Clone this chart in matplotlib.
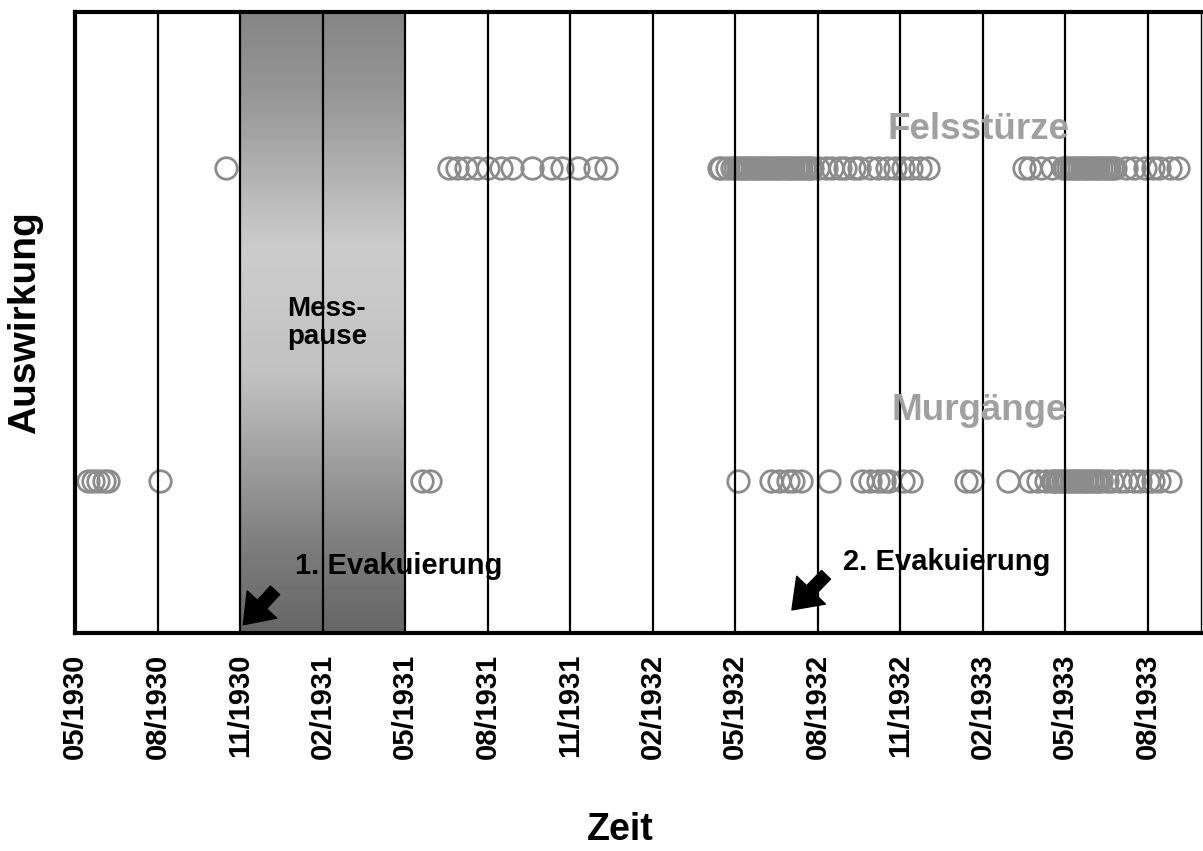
import numpy as np
import matplotlib
matplotlib.use("Agg")
import matplotlib.pyplot as plt
from matplotlib.patches import FancyArrowPatch

plt.rcParams['font.family'] = ['Liberation Sans', 'DejaVu Sans']
plt.rcParams['font.weight'] = 'bold'

# Zeit in Monaten ab 05/1930
ticks = [0, 3, 6, 9, 12, 15, 18, 21, 24, 27, 30, 33, 36, 39]
tick_labels = ['05/1930', '08/1930', '11/1930', '02/1931', '05/1931', '08/1931',
               '11/1931', '02/1932', '05/1932', '08/1932', '11/1932', '02/1933',
               '05/1933', '08/1933']

# Felsstürze
fels = [5.5,
        13.6, 13.9, 14.2, 14.6, 15.0, 15.5, 15.9, 16.6, 17.3, 17.7, 18.3, 18.9, 19.3,
        23.4, 23.5, 23.7, 23.9, 24.0, 24.1, 24.2, 24.3, 24.4, 24.5, 24.6, 24.7,
        24.8, 24.9, 25.0, 25.1, 25.2, 25.3, 25.4, 25.5, 25.6, 25.7, 25.8, 25.9,
        26.0, 26.1, 26.2, 26.3, 26.4, 26.5, 26.6, 26.7, 26.8, 27.0,
        27.3, 27.5, 27.8, 28.0, 28.3, 28.5, 28.9, 29.2, 29.5, 29.8, 30.1, 30.4,
        30.7, 31.0,
        34.5, 34.7, 35.1, 35.5, 35.9, 36.0, 36.1, 36.2, 36.3, 36.4, 36.5, 36.6,
        36.7, 36.8, 36.9, 37.0, 37.1, 37.2, 37.3, 37.4, 37.5, 37.6, 37.7, 37.8,
        38.2, 38.5, 38.9, 39.2, 39.4, 39.8, 40.1]

# Murgänge
mur = [0.47, 0.65, 0.84, 1.05, 1.2, 3.1,
       12.6, 12.9,
       24.1, 25.3, 25.6, 25.9, 26.1, 26.4, 27.4,
       28.6, 28.9, 29.2, 29.4, 29.6, 30.1, 30.4,
       32.4, 32.6, 33.9,
       34.7, 35.0, 35.3, 35.5, 35.6, 35.7, 35.8, 35.9, 36.0, 36.1, 36.2, 36.3,
       36.4, 36.5, 36.6, 36.7, 36.8, 36.9, 37.0, 37.1, 37.2, 37.3, 37.5, 37.7,
       38.0, 38.2, 38.5, 38.7, 39.0, 39.2, 39.4, 39.8]

y_fels = 0.749
y_mur = 0.245

fig = plt.figure(figsize=(12.03, 8.51), dpi=100)
ax = fig.add_axes([75/1203, 1-633/851, (1201-75)/1203, (633-12)/851])
ax.set_xlim(0, 40.93)
ax.set_ylim(0, 1)

# Messpause: Verlauf dunkel-hell-dunkel
grad = np.interp(np.linspace(1, 0, 200), [0, 0.15, 0.42, 0.62, 0.85, 1.0],
                 [0.40, 0.50, 0.76, 0.80, 0.60, 0.52])
ax.imshow(grad[:, None], extent=[6, 12, 0, 1], aspect='auto', cmap='gray',
          vmin=0, vmax=1, zorder=0)

for t in ticks[1:]:
    ax.axvline(t, color='black', lw=1.6, zorder=3)

ax.plot(fels, [y_fels]*len(fels), 'o', mfc='none', mec='#8c8c8c', ms=15.5, mew=2.0, zorder=2)
ax.plot(mur, [y_mur]*len(mur), 'o', mfc='none', mec='#8c8c8c', ms=15.5, mew=2.0, zorder=2)

ax.text(32.86, 0.81, 'Felsstürze', color='#a0a0a0', fontsize=26.5, ha='center', va='center', zorder=4)
ax.text(32.86, 0.359, 'Murgänge', color='#a0a0a0', fontsize=26.5, ha='center', va='center', zorder=4)
ax.text(7.7, 0.50, 'Mess-\npause', fontsize=20, ha='left', va='center', linespacing=1.1, zorder=4)
ax.text(8.0, 0.108, '1. Evakuierung', fontsize=21, ha='left', va='center', zorder=4)
ax.text(27.92, 0.114, '2. Evakuierung', fontsize=21, ha='left', va='center', zorder=4)

for (x0, y0, x1, y1) in [(7.34, 0.072, 6.05, 0.010), (27.37, 0.097, 25.99, 0.034)]:
    ax.add_patch(FancyArrowPatch((x0, y0), (x1, y1),
                                 arrowstyle='simple,head_width=1.6,head_length=1.1,tail_width=0.5',
                                 mutation_scale=18, color='black', zorder=5))

ax.set_xticks(ticks)
ax.set_xticklabels(tick_labels, rotation=90, fontsize=21, fontweight='bold')
ax.set_yticks([])
ax.tick_params(axis='x', length=0, pad=15)
for s in ['left', 'top', 'bottom']:
    ax.spines[s].set_linewidth(3)
ax.spines['right'].set_linewidth(1)

fig.text(620/1203, 1-830/851, 'Zeit', fontsize=27, fontweight='bold', ha='center', va='center')
fig.text(25/1203, 1-323/851, 'Auswirkung', fontsize=28, fontweight='bold', ha='center',
         va='center', rotation=90)

fig.savefig('out.png', dpi=100)
